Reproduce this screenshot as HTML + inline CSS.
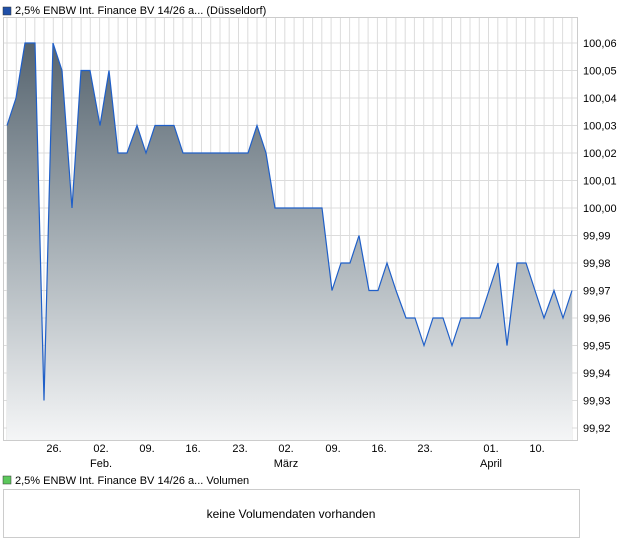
<!DOCTYPE html>
<html><head><meta charset="utf-8"><style>
body{margin:0;background:#fff;font-family:"Liberation Sans",sans-serif;}
</style></head><body>
<svg width="620" height="546" xmlns="http://www.w3.org/2000/svg" font-family="Liberation Sans, sans-serif" font-size="11">
<defs><linearGradient id="g" x1="0" y1="43" x2="0" y2="441" gradientUnits="userSpaceOnUse">
<stop offset="0" stop-color="#56646f"/><stop offset="0.5" stop-color="#a6afb5"/><stop offset="1" stop-color="#f5f6f7"/></linearGradient></defs>
<rect x="3" y="7" width="8" height="8" fill="#1f4fa8" stroke="#333" stroke-width="0.5"/>
<text x="15" y="14" fill="#000">2,5% ENBW Int. Finance BV 14/26 a... (Düsseldorf)</text>
<g id="grid" stroke="#dcdcdc" stroke-width="1"></g>
<rect x="3.5" y="17.5" width="574" height="423" fill="none" stroke="#ccc"/>
<path id="area" fill="url(#g)"/>
<path id="line" fill="none" stroke="#1f5fc8" stroke-width="1.2"/>
<g id="yl" fill="#000"></g>
<g fill="#000" text-anchor="middle">
<text x="54" y="452">26.</text><text x="101" y="452">02.</text><text x="147" y="452">09.</text><text x="193" y="452">16.</text><text x="240" y="452">23.</text><text x="286" y="452">02.</text><text x="333" y="452">09.</text><text x="379" y="452">16.</text><text x="425" y="452">23.</text><text x="491" y="452">01.</text><text x="537" y="452">10.</text>
<text x="101" y="467">Feb.</text><text x="286" y="467">März</text><text x="491" y="467">April</text>
</g>
<rect x="3" y="476" width="8" height="8" fill="#5cc85c" stroke="#333" stroke-width="0.5"/>
<text x="15" y="484" fill="#000">2,5% ENBW Int. Finance BV 14/26 a... Volumen</text>
<rect x="3.5" y="489.5" width="576" height="48" fill="#fff" stroke="#ccc"/>
<text x="291" y="518" text-anchor="middle" font-size="12" fill="#000">keine Volumendaten vorhanden</text>
</svg>
<script>
const d=[[7,100.03],[16,100.04],[25,100.06],[35,100.06],[44,99.93],[53,100.06],[62,100.05],[72,100.00],[81,100.05],[90,100.05],[100,100.03],[109,100.05],[118,100.02],[127,100.02],[137,100.03],[146,100.02],[155,100.03],[164,100.03],[174,100.03],[183,100.02],[192,100.02],[201,100.02],[211,100.02],[220,100.02],[229,100.02],[238,100.02],[248,100.02],[257,100.03],[266,100.02],[275,100.00],[285,100.00],[294,100.00],[303,100.00],[313,100.00],[322,100.00],[332,99.97],[341,99.98],[350,99.98],[359,99.99],[369,99.97],[378,99.97],[387,99.98],[396,99.97],[406,99.96],[415,99.96],[424,99.95],[433,99.96],[443,99.96],[452,99.95],[461,99.96],[470,99.96],[480,99.96],[489,99.97],[498,99.98],[507,99.95],[517,99.98],[526,99.98],[535,99.97],[544,99.96],[554,99.97],[563,99.96],[572,99.97]];
const Y=v=>43+(100.06-v)*2750;
let p=d.map((q,i)=>(i?'L':'M')+q[0]+' '+Y(q[1]).toFixed(1)).join(' ');
document.getElementById('line').setAttribute('d',p);
document.getElementById('area').setAttribute('d',p+' L572 440 L7 440 Z');
let g='',yl='';
for(let x=7;x<578;x+=9.26)g+=`<line x1="${x.toFixed(1)}" y1="18" x2="${x.toFixed(1)}" y2="440"/>`;
for(let k=0;k<15;k++){let y=43+k*27.5;g+=`<line x1="4" y1="${y}" x2="577" y2="${y}"/>`;
yl+=`<text x="583" y="${y+4}">${(100.06-k*0.01).toFixed(2).replace('.',',')}</text>`;}
document.getElementById('grid').innerHTML=g;document.getElementById('yl').innerHTML=yl;
</script>
</body></html>
